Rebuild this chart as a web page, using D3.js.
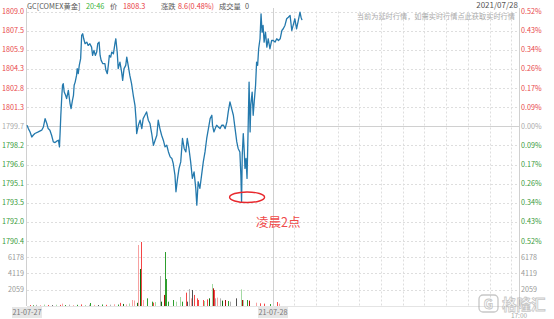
<!DOCTYPE html>
<html><head><meta charset="utf-8">
<script src="https://cdn.jsdelivr.net/npm/d3@7"></script>
<style>
html,body{margin:0;padding:0;background:#fff;}
svg{display:block;font-family:"Microsoft YaHei","Noto Sans CJK SC","Noto Sans",sans-serif;}
</style></head>
<body><svg id="c" width="554" height="319"></svg>
<script>
// ---- data ----
const prevClose = 1799.7;
const priceTicks = [1809.0,1807.45,1805.9,1804.35,1802.8,1801.25,1799.7,1798.15,1796.6,1795.05,1793.5,1791.95,1790.4];
const priceTickLabels = ["1809.0","1807.5","1805.9","1804.3","1802.8","1801.3","1799.7","1798.2","1796.6","1795.1","1793.5","1792.0","1790.4"];
const pctTickLabels = ["0.52%","0.43%","0.34%","0.26%","0.17%","0.09%","0.00%","0.09%","0.17%","0.26%","0.34%","0.43%","0.52%"];
const volTicks = [2059,4119,6178];
const volMax = 8237;
const dayStarts = [{t:0,label:"21-07-27"},{t:720,label:"21-07-28"}];
const endLabel = "17:00";
const hourGrid = [782,846,910,973,1037,1100,1163,1227,1290,1354,1417];
// minutes since session start
const times = [0,4,9,14,18,23,33,43,48,53,58,62,67,72,77,82,87,92,95,97,99,102,104,106,109,113,116,121,126,129,133,136,138,141,145,147,150,153,157,160,163,166,170,175,179,184,189,192,196,200,204,207,211,214,217,222,228,231,235,238,241,245,248,253,258,260,264,267,272,277,280,284,289,292,297,301,306,311,316,319,321,326,331,336,340,345,350,355,360,365,370,375,380,384,389,394,399,404,409,414,419,424,428,433,436,440,445,450,455,460,465,469,474,479,484,489,494,497,501,506,511,516,521,526,531,536,541,543,547,551,555,560,565,570,575,580,585,589,594,599,604,609,614,618,623,626,628,630,633,636,638,641,644,647,650,653,655,659,662,665,669,672,675,678,682,685,688,691,694,698,702,706,711,716,721,726,731,736,741,746,750,755,760,765,770,775,779,784,789,794,799,802,805];
const prices = [1799.78,1799.51,1799.24,1798.83,1798.97,1799.11,1799.24,1799.38,1799.64,1800.32,1799.92,1799.51,1799.38,1798.97,1798.43,1798.38,1798.49,1798.57,1798.03,1799.24,1800.59,1802.21,1803.02,1803.15,1802.47,1802.21,1801.94,1802.61,1801.54,1801.13,1801.80,1802.21,1803.02,1803.28,1803.82,1804.37,1803.96,1804.63,1805.18,1807.06,1807.20,1806.79,1806.39,1806.52,1806.25,1806.39,1806.11,1805.44,1805.85,1805.44,1805.71,1806.39,1806.52,1805.44,1805.04,1804.77,1804.77,1804.23,1803.96,1804.63,1805.44,1805.30,1805.71,1805.58,1806.52,1806.79,1805.71,1804.37,1804.90,1804.09,1803.42,1804.37,1804.63,1805.30,1804.50,1803.82,1803.15,1802.21,1801.40,1800.32,1799.11,1799.78,1800.19,1799.51,1800.32,1800.59,1800.86,1800.19,1799.92,1799.11,1798.16,1798.57,1798.97,1800.19,1799.51,1798.97,1798.57,1798.03,1798.16,1797.62,1797.22,1797.09,1796.68,1795.74,1794.39,1795.33,1796.28,1796.81,1798.71,1797.90,1797.62,1798.71,1797.90,1796.81,1795.47,1796.00,1794.66,1793.31,1795.20,1794.66,1795.74,1796.81,1797.62,1798.71,1799.51,1800.32,1800.59,1799.78,1799.24,1799.51,1799.78,1799.64,1799.51,1799.78,1799.78,1799.51,1800.05,1800.86,1801.67,1801.13,1800.59,1799.51,1798.43,1797.90,1797.62,1795.74,1793.58,1797.36,1799.11,1797.62,1796.28,1797.09,1795.47,1799.24,1803.28,1799.24,1801.40,1802.47,1800.59,1801.67,1803.02,1804.90,1804.63,1805.98,1806.79,1808.81,1807.33,1807.87,1806.52,1807.33,1806.11,1806.79,1805.98,1806.65,1806.65,1806.52,1806.79,1806.65,1806.79,1807.46,1807.60,1807.87,1808.41,1808.54,1808.68,1807.46,1807.87,1808.41,1807.60,1808.27,1808.94,1808.54,1808.3];
// volume bars
const volTimes = [9,18,26,38,50,61,73,85,97,102,111,123,135,146,158,170,181,184,196,208,220,231,243,255,266,272,281,290,299,307,313,322,326,330,334,340,351,366,369,375,389,392,402,405,408,413,426,436,448,453,465,469,474,479,484,489,497,501,516,519,528,533,541,544,546,551,557,565,570,580,587,594,611,626,628,633,643,650,670,682,694,711,732,738];
const volValues = [120,90,150,110,180,130,100,160,140,300,120,170,110,150,200,130,160,380,140,120,190,150,170,220,180,400,260,200,320,760,700,400,7730,4690,8110,760,970,550,420,500,3800,550,1400,6840,3420,550,760,550,1140,550,1690,550,2150,970,2030,1400,970,760,760,630,840,970,2790,2240,2030,970,1060,970,680,760,630,550,970,2110,760,760,760,680,420,340,300,250,500,300];
const volKind = ["up","down","flat","upL","downL","up","flatD","downL","up","upL","down","flat","upL","down","up","downL","flat","down","upL","flatD","down","up","flat","upL","down","up","downD","upL","downL","upL","upL","downD","upL","downD","up","upL","down","down","up","downL","flat","downD","upD","down","down","down","down","downL","downL","down","up","flatD","flat","upL","flatD","up","up","up","up","downL","up","downD","downL","upD","up","flat","upL","flat","downD","upD","down","flat","flatD","downL","upD","downL","down","upD","upL","up","up","down","up","upL"];
const palette = {up:"#f44646",upL:"#f7a1a1",upD:"#b01010",down:"#2e9e2e",downL:"#a3d9a3",downD:"#106b10",flat:"#b0b0b0",flatD:"#505050"};
// header
const header = [
  {t:"GC[COMEX黄金]",c:"#555"},{t:"20:46",c:"#3bb33b"},{t:"价",c:"#555"},{t:"1808.3",c:"#e8383d"},
  {t:"涨跌",c:"#555"},{t:"8.6(0.48%)",c:"#e8383d"},{t:"成交量",c:"#555"},{t:"0",c:"#555"}];
const headerX = [27,86,110,123,161,178,219,245];
const dateText = "2021/07/28";
const noticeText = "当前为延时行情，如需实时行情点此获取实时行情";
const annotation = "凌晨2点";
const annotationTime = 628;

// ---- layout ----
const svg = d3.select("#c");
const L = 27, R = 519, pTop = 11.5, pBot = 241, vTop = 241, vBot = 306;
const x = d3.scaleLinear().domain([0,1440]).range([L,R]);
const y = d3.scaleLinear().domain([1790.4,1809.0]).range([pBot,pTop]);
const yv = d3.scaleLinear().domain([0,volMax]).range([vBot,vTop]);

const gGrid = svg.append("g");
priceTicks.forEach((v,i)=>{
  const yy = Math.round(y(v))+0.5;
  gGrid.append("line").attr("x1",L).attr("x2",R).attr("y1",yy).attr("y2",yy)
    .attr("stroke", i===6 ? "#d0d0d0" : "#dedede")
    .attr("stroke-dasharray", i===6 ? null : "2,2");
});
volTicks.forEach(v=>{
  const yy = Math.round(yv(v))+0.5;
  gGrid.append("line").attr("x1",L).attr("x2",R).attr("y1",yy).attr("y2",yy)
    .attr("stroke","#dedede").attr("stroke-dasharray","2,2");
});
hourGrid.forEach(t=>{
  const xx = Math.round(x(t))+0.5;
  gGrid.append("line").attr("x1",xx).attr("x2",xx).attr("y1",pTop).attr("y2",vBot)
    .attr("stroke","#dedede").attr("stroke-dasharray","2,2");
});
[L-0.5, R+0.5].forEach(xx=>{
  gGrid.append("line").attr("x1",xx).attr("x2",xx).attr("y1",8).attr("y2",vBot)
    .attr("stroke","#d0d0d0");
});
gGrid.append("line").attr("x1",Math.round(x(720))+0.5).attr("x2",Math.round(x(720))+0.5)
  .attr("y1",8).attr("y2",vBot).attr("stroke","#d0d0d0");
gGrid.append("line").attr("x1",L).attr("x2",R).attr("y1",vBot+0.5).attr("y2",vBot+0.5).attr("stroke","#e4e4e4");

// volume bars
svg.append("g").selectAll("rect").data(volTimes.map((t,i)=>({t,v:volValues[i],k:volKind[i]})))
  .join("rect")
  .attr("x",d=>Math.round(x(d.t)))
  .attr("width",1)
  .attr("y",d=>yv(d.v))
  .attr("height",d=>Math.max(0.8,vBot-yv(d.v)))
  .attr("fill",d=>palette[d.k]);

// price line
const pts = times.map((t,i)=>[t,prices[i]]);
svg.append("path").datum(pts)
  .attr("d", d3.line().x(d=>x(d[0])).y(d=>y(d[1])))
  .attr("fill","none").attr("stroke","#2479ad").attr("stroke-width",1.3)
  .attr("stroke-linejoin","round");

// axis labels
const fs = 7.2;
priceTicks.forEach((v,i)=>{
  const col = i<6 ? "#e8474a" : (i===6 ? "#aaaaaa" : "#3a9a3a");
  svg.append("text").attr("x",24).attr("y",y(v)).attr("dy","0.35em")
    .attr("text-anchor","end").attr("font-size",fs).attr("fill",col).text(priceTickLabels[i]);
  svg.append("text").attr("x",521).attr("y",y(v)).attr("dy","0.35em")
    .attr("text-anchor","start").attr("font-size",fs).attr("fill",col).text(pctTickLabels[i]);
});
volTicks.forEach(v=>{
  svg.append("text").attr("x",24).attr("y",yv(v)).attr("dy","0.35em")
    .attr("text-anchor","end").attr("font-size",fs).attr("fill","#999").text(v);
  svg.append("text").attr("x",521).attr("y",yv(v)).attr("dy","0.35em")
    .attr("text-anchor","start").attr("font-size",fs).attr("fill","#999").text(v);
});
dayStarts.forEach(d=>{
  const cx = x(d.t);
  svg.append("rect").attr("x",cx-15).attr("y",307).attr("width",30).attr("height",11).attr("fill","#e6e6e6");
  svg.append("text").attr("x",cx).attr("y",312.5).attr("dy","0.35em").attr("text-anchor","middle")
    .attr("font-size",fs).attr("fill","#777").text(d.label);
});
svg.append("text").attr("x",x(1440)).attr("y",315.5).attr("dy","0.35em").attr("text-anchor","middle")
  .attr("font-size",6.5).attr("fill","#aaa").text(endLabel);

// header
header.forEach((h,i)=>{
  svg.append("text").attr("x",headerX[i]).attr("y",8.5).attr("font-size",7.3).attr("fill",h.c).text(h.t);
});
svg.append("text").attr("x",518).attr("y",8).attr("text-anchor","end").attr("font-size",8).attr("fill","#555").text(dateText);
svg.append("text").attr("x",515).attr("y",18.5).attr("text-anchor","end").attr("font-size",7.2).attr("fill","#aaa").text(noticeText);

// annotation at the overnight spike low
const ai = times.indexOf(annotationTime);
const ax = x(times[ai]), ay = y(prices[ai]);
svg.append("ellipse").attr("cx",ax+5.5).attr("cy",ay-4.5).attr("rx",17.5).attr("ry",5.3)
  .attr("fill","none").attr("stroke","#e8282d").attr("stroke-width",1.4);
svg.append("text").attr("x",ax+14.5).attr("y",ay+25).attr("font-size",12.5).attr("fill","#ef4a4a").text(annotation);

// watermark
const wm = svg.append("g").attr("opacity",0.55);
wm.append("rect").attr("x",479).attr("y",295).attr("width",19).attr("height",17).attr("rx",4)
  .attr("fill","none").attr("stroke","#9a9a9a").attr("stroke-width",1.3);
wm.append("text").attr("x",488.5).attr("y",308.5).attr("text-anchor","middle").attr("font-size",13)
  .attr("font-weight","bold").attr("fill","#fff").attr("stroke","#9a9a9a").attr("stroke-width",0.8).text("G");
wm.append("text").attr("x",502).attr("y",309.5).attr("font-size",14.5).attr("font-weight","bold")
  .attr("fill","#fff").attr("stroke","#9a9a9a").attr("stroke-width",0.8).text("格隆汇");
</script></body></html>
